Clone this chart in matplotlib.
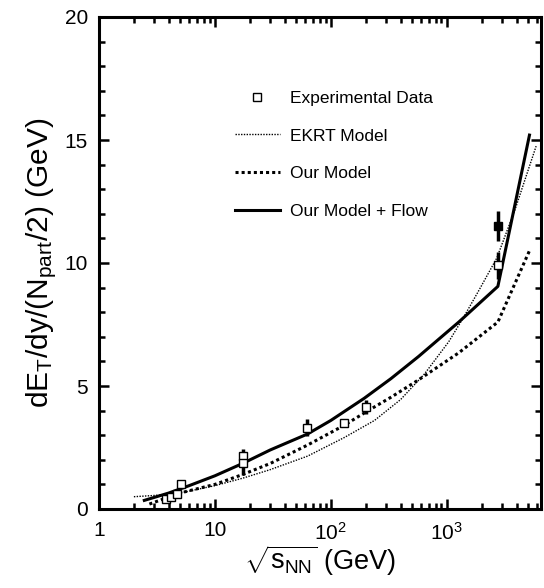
import numpy as np
import matplotlib.pyplot as plt
from matplotlib.lines import Line2D
from matplotlib.ticker import FixedLocator, FixedFormatter, MultipleLocator

plt.rcParams['font.family'] = ['Liberation Sans', 'DejaVu Sans']
plt.rcParams['mathtext.fontset'] = 'custom'
plt.rcParams['mathtext.rm'] = 'Liberation Sans'
plt.rcParams['mathtext.it'] = 'Liberation Sans'

# experimental data (open squares)
exp_x = [3.8, 4.2, 4.75, 5.1, 17.3, 17.3, 62.4, 130, 200, 2760]
exp_y = [0.4, 0.5, 0.6, 1.0, 2.15, 1.85, 3.3, 3.5, 4.15, 9.9]
exp_err = [0.0, 0.0, 0.0, 0.0, 0.3, 0.45, 0.35, 0.15, 0.3, 0.55]

# filled point at LHC
lhc_x = [2760]
lhc_y = [11.5]
lhc_err = [0.6]

# EKRT model
ekrt_x = [2.0, 3.0, 5.0, 10, 17.3, 30, 63, 130, 238, 400, 645, 1040, 1400, 1900, 2700, 3900, 5900]
ekrt_y = [0.5, 0.55, 0.65, 0.95, 1.25, 1.6, 2.15, 2.9, 3.6, 4.45, 5.5, 6.8, 7.8, 8.9, 10.2, 12.2, 14.75]

# our model
our_x = [2.72, 5.0, 10, 17.3, 30, 63, 130, 210, 332, 571, 1270, 2760, 5170]
our_y = [0.2, 0.65, 1.0, 1.4, 1.85, 2.6, 3.4, 4.0, 4.55, 5.25, 6.35, 7.6, 10.5]

# our model + flow
flow_x = [2.46, 4.0, 6.0, 10, 17.3, 30, 63, 100, 194, 330, 571, 1270, 2760, 5170]
flow_y = [0.35, 0.65, 0.95, 1.35, 1.85, 2.4, 3.05, 3.6, 4.5, 5.3, 6.2, 7.6, 9.05, 15.2]


fig = plt.figure(figsize=(5.44, 5.88), dpi=100)
ax = fig.add_axes([99 / 544, 1 - 509 / 588, 442 / 544, 492 / 588])

ax.plot(ekrt_x, ekrt_y, color='black', lw=1.0, ls=(0, (1, 1)))
ax.plot(our_x, our_y, color='black', lw=2.2, ls=(0, (1, 1)))
ax.plot(flow_x, flow_y, color='black', lw=2.2, ls='-')

ax.errorbar(exp_x, exp_y, yerr=exp_err, fmt='s', ms=6, mfc='white', mec='black',
            mew=1.0, ecolor='black', elinewidth=2.5, capsize=0, zorder=5)
ax.errorbar(lhc_x, lhc_y, yerr=lhc_err, fmt='s', ms=6, mfc='black', mec='black',
            ecolor='black', elinewidth=2.5, capsize=0, zorder=5)

ax.set_xscale('log')
ax.set_xlim(1, 6500)
ax.set_ylim(0, 20)

ax.xaxis.set_major_locator(FixedLocator([1, 10, 100, 1000]))
ax.xaxis.set_major_formatter(FixedFormatter(['1', '10', r'$10^2$', r'$10^3$']))
ax.xaxis.set_minor_locator(FixedLocator(
    [m * 10 ** d for d in range(4) for m in range(2, 10) if m * 10 ** d < 6500]))
ax.yaxis.set_major_locator(MultipleLocator(5))
ax.yaxis.set_minor_locator(MultipleLocator(1))

ax.tick_params(which='both', direction='in', top=True, right=True, width=1.8)
ax.tick_params(which='major', length=7, labelsize=15)
ax.tick_params(which='minor', length=4)
ax.tick_params(axis='x', which='major', pad=9)
ax.tick_params(axis='y', which='major', pad=8)
for s in ax.spines.values():
    s.set_linewidth(2.2)

ax.set_xlabel(r'$\sqrt{\mathrm{s_{NN}}}$ (GeV)', fontsize=19.5, labelpad=0)
ax.set_ylabel(r'dE$_\mathrm{T}$/dy/(N$_\mathrm{part}$/2) (GeV)', fontsize=21.5, labelpad=4)

handles = [
    Line2D([], [], marker='s', ls='none', ms=6, mfc='white', mec='black', mew=1.0),
    Line2D([], [], color='black', lw=1.0, ls=(0, (1, 1))),
    Line2D([], [], color='black', lw=2.2, ls=(0, (1, 1))),
    Line2D([], [], color='black', lw=2.2, ls='-'),
]
labels = ['Experimental Data', 'EKRT Model', 'Our Model', 'Our Model + Flow']
ax.legend(handles, labels,
          loc='upper left', bbox_to_anchor=(226 / 544, 1 - 82 / 588),
          bbox_transform=fig.transFigure, frameon=False, fontsize=12.5,
          handlelength=2.6, handletextpad=0.6, labelspacing=1.3, borderpad=0)

fig.savefig('out.png', dpi=100)
